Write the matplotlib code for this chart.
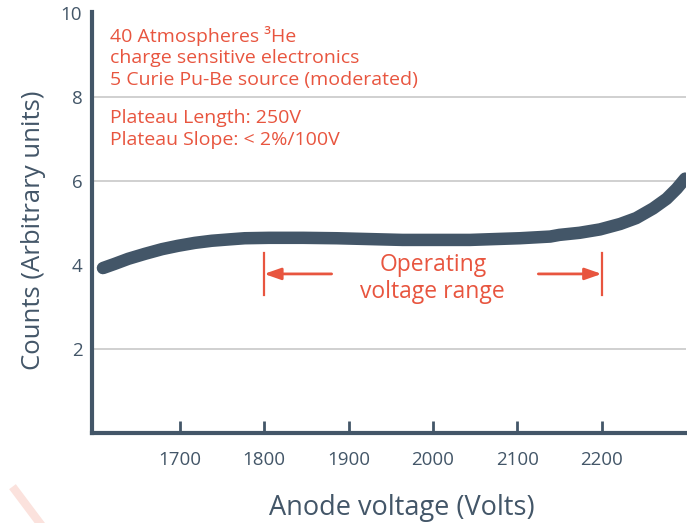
import matplotlib
matplotlib.use("Agg")
import matplotlib.pyplot as plt
from matplotlib.lines import Line2D

# ---- data ----
voltage = [1609, 1623, 1639, 1659, 1679, 1698, 1718, 1738, 1757, 1777,
           1806, 1846, 1886, 1925, 1964, 2004, 2044, 2073, 2103, 2139,
           2150, 2174, 2198, 2222, 2241, 2261, 2277, 2289, 2299]
counts = [3.93, 4.03, 4.15, 4.27, 4.38, 4.46, 4.53, 4.58, 4.61, 4.64,
          4.65, 4.65, 4.64, 4.62, 4.60, 4.60, 4.60, 4.62, 4.64, 4.68,
          4.72, 4.77, 4.85, 4.98, 5.12, 5.35, 5.58, 5.82, 6.06]
xticks = [1700, 1800, 1900, 2000, 2100, 2200]
yticks = [2, 4, 6, 8, 10]
gridlines = [2, 6, 8]
op_range = [1800, 2200]
arrow_inner = [1880, 2125]
info_lines = ["40 Atmospheres ³He", "charge sensitive electronics",
              "5 Curie Pu-Be source (moderated)"]
plateau_lines = ["Plateau Length: 250V", "Plateau Slope: < 2%/100V"]

DARK = "#435668"
RED = "#E8553F"
GRID = "#c8c8c8"
FONT = ["Open Sans", "DejaVu Sans"]

plt.rcParams["font.family"] = FONT

fig = plt.figure(figsize=(6.87, 5.23), dpi=100)
ax = fig.add_axes([92 / 687, 1 - 433 / 523, 594 / 687, 421 / 523])
ax.set_xlim(1596, 2300)
ax.set_ylim(0, 10.03)

for g in gridlines:
    ax.axhline(g, color=GRID, lw=1.2, zorder=1)

ax.plot(voltage, counts, color=DARK, lw=9, solid_capstyle="round",
        solid_joinstyle="round", zorder=3)

for s in ["top", "right"]:
    ax.spines[s].set_visible(False)
for s in ["left", "bottom"]:
    ax.spines[s].set_color(DARK)
    ax.spines[s].set_linewidth(3)

ax.set_xticks(xticks)
ax.set_xticklabels([str(v) for v in xticks])
ax.set_yticks(yticks)
ax.set_yticklabels([str(v) for v in yticks])
ax.tick_params(axis="x", direction="in", length=9, width=2, color=DARK,
               labelsize=13.5, labelcolor=DARK, pad=13)
ax.tick_params(axis="y", length=0, labelsize=13.5, labelcolor=DARK, pad=7)

ax.set_xlabel("Anode voltage (Volts)", fontsize=19.5, color=DARK)
ax.xaxis.set_label_coords(0.522, -0.145)
ax.set_ylabel("Counts (Arbitrary units)", fontsize=18.5, color=DARK)
ax.yaxis.set_label_coords(-0.078, 0.482)

# operating range markers
for xv in op_range:
    ax.plot([xv, xv], [3.29, 4.29], color=RED, lw=1.6, zorder=4)
for xv, xi in zip(op_range, arrow_inner):
    ax.annotate("", xy=(xv, 3.79), xytext=(xi, 3.79),
                arrowprops=dict(arrowstyle="-|>,head_length=1.0,head_width=0.35",
                                color=RED, lw=2, shrinkA=0, shrinkB=0))
ax.text(2000, 3.68, "Operating\nvoltage range", ha="center", va="center",
        color=RED, fontsize=16.5, linespacing=1.12)

# info text
info_y = [9.45, 8.93, 8.40]
for t, yv in zip(info_lines, info_y):
    ax.text(1617, yv, t, color=RED, fontsize=14, ha="left", va="center")
plat_y = [7.50, 6.98]
for t, yv in zip(plateau_lines, plat_y):
    ax.text(1617, yv, t, color=RED, fontsize=14, ha="left", va="center")

# faint decorative stroke bottom-left
fig.add_artist(Line2D([15 / 687, 42 / 687], [1 - 490 / 523, 1 - 526 / 523],
                      transform=fig.transFigure, color="#fbe2dd", lw=6))

fig.savefig("out.png", dpi=100)
